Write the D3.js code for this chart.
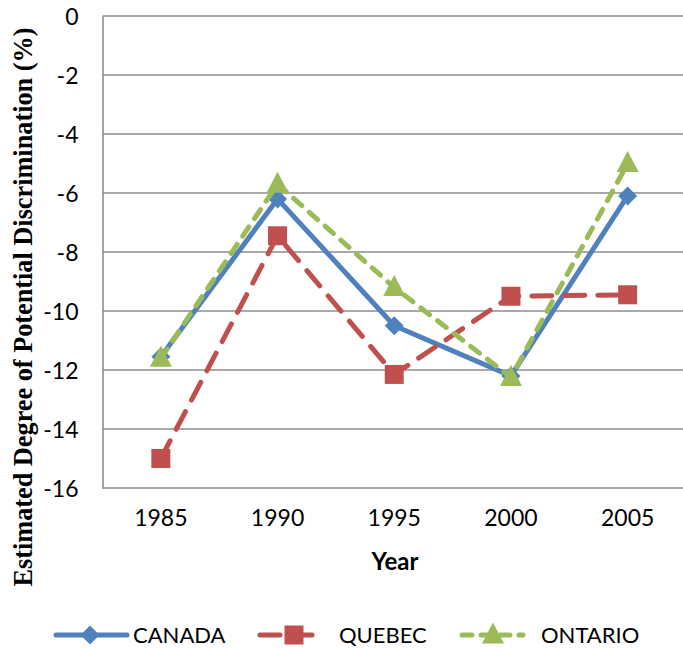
<!DOCTYPE html>
<html>
<head>
<meta charset="utf-8">
<script src="https://cdn.jsdelivr.net/npm/d3@7"></script>
<style>
  body { margin: 0; background: #fff; }
  svg { display: block; }
  .tick text { font-family: Lato, "Open Sans", sans-serif; font-size: 23px; fill: #000; }
</style>
</head>
<body>
<div id="chart"></div>
<script>
var years = ["1985", "1990", "1995", "2000", "2005"];
var canada = [-11.55, -6.2, -10.5, -12.2, -6.1];
var quebec = [-15.0, -7.45, -12.15, -9.5, -9.45];
var ontario = [-11.6, -5.7, -9.2, -12.25, -5.0];
var yTicks = [0, -2, -4, -6, -8, -10, -12, -14, -16];

var width = 683, height = 649;
var plotLeft = 102.5, plotTop = 16, plotBottom = 488, plotRight = 686;

var svg = d3.select("#chart").append("svg").attr("width", width).attr("height", height);

var x = d3.scaleBand().domain(years).range([plotLeft, plotRight]);
var y = d3.scaleLinear().domain([-16, 0]).range([plotBottom, plotTop]);

// grid lines
svg.append("g").selectAll("line").data(yTicks).enter().append("line")
  .attr("x1", plotLeft).attr("x2", plotRight)
  .attr("y1", function(d) { return y(d); }).attr("y2", function(d) { return y(d); })
  .attr("stroke", "#8c8c8c").attr("stroke-width", 1.6);

// y axis (plain hyphen for minus like the original)
var yAxis = svg.append("g").attr("transform", "translate(" + plotLeft + ",0)")
  .call(d3.axisLeft(y).tickValues(yTicks).tickSize(0).tickPadding(24).tickFormat(function(d) { return String(d); }));
yAxis.select(".domain").attr("stroke", "#8c8c8c").attr("stroke-width", 1.6);
yAxis.selectAll(".tick text").attr("dy", "0.35em");

// x axis
var xAxis = svg.append("g").attr("transform", "translate(0," + plotBottom + ")")
  .call(d3.axisBottom(x).tickSize(0).tickPadding(22));
xAxis.select(".domain").remove();
xAxis.selectAll(".tick text").attr("dy", "0.71em");

// titles
svg.append("text").text("Year")
  .attr("x", 395).attr("y", 570).attr("text-anchor", "middle")
  .style("font-family", "Lato, 'Open Sans', sans-serif").style("font-size", "24px").style("font-weight", "bold");

svg.append("text").text("Estimated Degree of Potential Discrimination (%)")
  .attr("transform", "translate(32,307) rotate(-90)")
  .attr("text-anchor", "middle")
  .attr("textLength", 559).attr("lengthAdjust", "spacingAndGlyphs")
  .style("font-family", "'Liberation Serif', 'Times New Roman', serif").style("font-size", "27px").style("font-weight", "bold");

var series = [
  { name: "CANADA", values: canada, color: "#4f81bd", dash: null, cap: "butt", marker: "diamond", lx: [56, 127], mx: 90, tx: 133 },
  { name: "QUEBEC", values: quebec, color: "#c0504d", dash: "20,13", cap: "round", marker: "square", lx: [260, 323], mx: 294, tx: 339 },
  { name: "ONTARIO", values: ontario, color: "#9bbb59", dash: "11,10", cap: "round", marker: "triangle", lx: [462, 523], mx: 493, tx: 541 }
];

var markerPath = function(type) {
  if (type === "diamond") return "M0,-9.5L9.5,0L0,9.5L-9.5,0Z";
  if (type === "square") return "M-9.5,-9.5L9.5,-9.5L9.5,9.5L-9.5,9.5Z";
  return "M0,-12.5L11,8.5L-11,8.5Z";
};

var line = d3.line()
  .x(function(d, i) { return x(years[i]) + x.bandwidth() / 2; })
  .y(function(d) { return y(d); });

series.forEach(function(s) {
  var g = svg.append("g");
  g.append("path").datum(s.values).attr("d", line)
    .attr("fill", "none").attr("stroke", s.color).attr("stroke-width", 5)
    .attr("stroke-linecap", s.cap).attr("stroke-linejoin", "round")
    .attr("stroke-dasharray", s.dash);
  g.selectAll(".m").data(s.values).enter().append("path").attr("class", "m")
    .attr("d", markerPath(s.marker)).attr("fill", s.color)
    .attr("transform", function(d, i) {
      return "translate(" + (x(years[i]) + x.bandwidth() / 2) + "," + y(d) + ")";
    });

  // legend
  var lg = svg.append("g");
  lg.append("line").attr("x1", s.lx[0]).attr("x2", s.lx[1]).attr("y1", 635).attr("y2", 635)
    .attr("stroke", s.color).attr("stroke-width", 5).attr("stroke-linecap", "round")
    .attr("stroke-dasharray", s.dash ? (s.name === "QUEBEC" ? "20,12" : "10,9") : null);
  lg.append("path").attr("d", markerPath(s.marker)).attr("fill", s.color)
    .attr("transform", "translate(" + s.mx + ",635)");
  lg.append("text").text(s.name).attr("x", s.tx).attr("y", 643)
    .style("font-family", "Lato, 'Open Sans', sans-serif").style("font-size", "22px");
});
</script>
</body>
</html>
